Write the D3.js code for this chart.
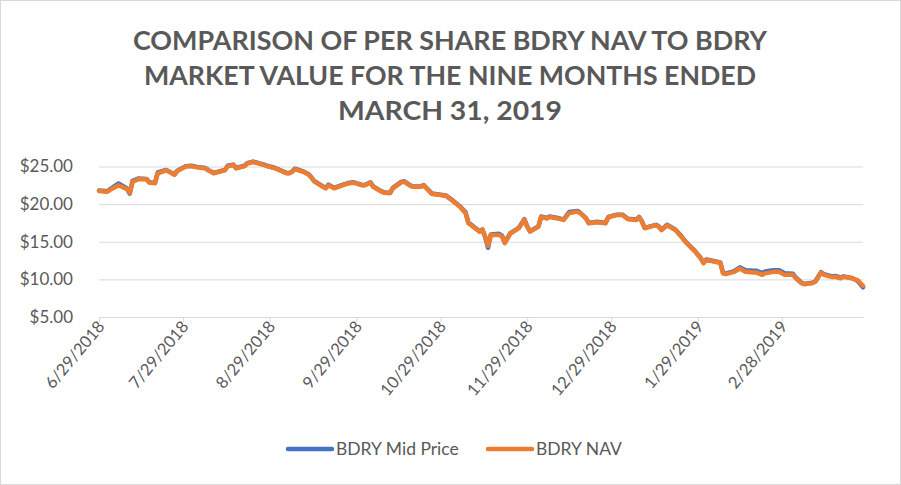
<!DOCTYPE html>
<html>
<head>
<meta charset="utf-8">
<script src="https://cdn.jsdelivr.net/npm/d3@7"></script>
<style>
  body { margin: 0; background: #fff; }
  text { font-family: Lato, "Open Sans", sans-serif; fill: #595959; }
</style>
</head>
<body>
<svg id="chart" width="901" height="485"></svg>
<script>
// Data
const dates = [
    "2018-06-29", "2018-07-02", "2018-07-03", "2018-07-06", "2018-07-09", "2018-07-10", "2018-07-11", "2018-07-13",
    "2018-07-16", "2018-07-17", "2018-07-19", "2018-07-20", "2018-07-23", "2018-07-24", "2018-07-26", "2018-07-27",
    "2018-07-30", "2018-08-01", "2018-08-03", "2018-08-06", "2018-08-07", "2018-08-09", "2018-08-13", "2018-08-14",
    "2018-08-16", "2018-08-17", "2018-08-20", "2018-08-21", "2018-08-23", "2018-08-27", "2018-08-28", "2018-08-31",
    "2018-09-04", "2018-09-05", "2018-09-06", "2018-09-07", "2018-09-10", "2018-09-12", "2018-09-14", "2018-09-17",
    "2018-09-18", "2018-09-19", "2018-09-21", "2018-09-24", "2018-09-26", "2018-09-28", "2018-10-01", "2018-10-02",
    "2018-10-04", "2018-10-05", "2018-10-08", "2018-10-09", "2018-10-11", "2018-10-12", "2018-10-15", "2018-10-16",
    "2018-10-18", "2018-10-19", "2018-10-22", "2018-10-23", "2018-10-24", "2018-10-26", "2018-10-29", "2018-10-31",
    "2018-11-02", "2018-11-05", "2018-11-07", "2018-11-08", "2018-11-12", "2018-11-13", "2018-11-14", "2018-11-15",
    "2018-11-16", "2018-11-19", "2018-11-20", "2018-11-21", "2018-11-23", "2018-11-26", "2018-11-28", "2018-11-29",
    "2018-11-30", "2018-12-03", "2018-12-04", "2018-12-06", "2018-12-07", "2018-12-10", "2018-12-12", "2018-12-14",
    "2018-12-17", "2018-12-18", "2018-12-20", "2018-12-21", "2018-12-24", "2018-12-27", "2018-12-28", "2018-12-31",
    "2019-01-02", "2019-01-04", "2019-01-07", "2019-01-08", "2019-01-09", "2019-01-10", "2019-01-14", "2019-01-15",
    "2019-01-16", "2019-01-18", "2019-01-21", "2019-01-23", "2019-01-24", "2019-01-25", "2019-01-28", "2019-01-30",
    "2019-01-31", "2019-02-01", "2019-02-04", "2019-02-06", "2019-02-07", "2019-02-08", "2019-02-11", "2019-02-13",
    "2019-02-15", "2019-02-18", "2019-02-19", "2019-02-21", "2019-02-22", "2019-02-25", "2019-02-27", "2019-03-01",
    "2019-03-04", "2019-03-05", "2019-03-07", "2019-03-08", "2019-03-11", "2019-03-12", "2019-03-14", "2019-03-15",
    "2019-03-18", "2019-03-19", "2019-03-21", "2019-03-22", "2019-03-25", "2019-03-27", "2019-03-29"
];

const navValues = [
    21.75, 21.65, 21.9, 22.5, 22.0, 21.5, 23.0, 23.3,
    23.3, 22.85, 22.8, 24.1, 24.5, 24.3, 23.9, 24.4,
    25.0, 25.05, 24.9, 24.75, 24.5, 24.1, 24.5, 25.05,
    25.2, 24.75, 25.05, 25.4, 25.6, 25.2, 25.05, 24.75,
    24.1, 24.1, 24.3, 24.65, 24.3, 23.9, 23.0, 22.3,
    22.1, 22.5, 22.1, 22.5, 22.75, 22.85, 22.5, 22.5,
    22.85, 22.3, 21.65, 21.5, 21.45, 22.1, 22.9, 23.0,
    22.5, 22.3, 22.3, 22.5, 22.1, 21.35, 21.2, 21.1,
    20.55, 19.65, 18.8, 17.45, 16.35, 16.65, 15.7, 14.45,
    15.9, 15.9, 15.7, 14.8, 16.1, 16.8, 17.95, 17.0,
    16.35, 17.0, 18.3, 18.1, 18.3, 18.1, 17.9, 18.8,
    19.0, 18.8, 18.1, 17.45, 17.6, 17.45, 18.25, 18.55,
    18.55, 18.0, 17.9, 18.25, 17.65, 16.8, 17.2, 17.0,
    16.55, 17.2, 16.55, 15.7, 15.25, 14.8, 13.7, 12.8,
    12.15, 12.6, 12.35, 12.2, 10.8, 10.7, 11.0, 11.45,
    11.0, 10.9, 10.9, 10.6, 10.8, 11.0, 11.0, 10.6,
    10.6, 10.15, 9.5, 9.35, 9.5, 9.7, 10.9, 10.6,
    10.3, 10.35, 10.15, 10.35, 10.15, 9.9, 9.15
];

const midValues = [
    21.8, 21.7, 22.0, 22.75, 22.1, 21.4, 23.1, 23.4,
    23.35, 22.9, 22.8, 24.2, 24.55, 24.35, 23.95, 24.45,
    25.05, 25.1, 24.95, 24.8, 24.55, 24.15, 24.55, 25.1,
    25.25, 24.8, 25.1, 25.45, 25.65, 25.25, 25.1, 24.8,
    24.15, 24.15, 24.35, 24.7, 24.35, 23.95, 23.05, 22.35,
    22.15, 22.6, 22.15, 22.55, 22.8, 22.9, 22.55, 22.55,
    22.9, 22.35, 21.7, 21.55, 21.5, 22.15, 22.95, 23.05,
    22.55, 22.35, 22.35, 22.55, 22.15, 21.4, 21.25, 21.15,
    20.6, 19.7, 18.9, 17.55, 16.4, 16.6, 15.6, 14.2,
    15.95, 16.05, 15.8, 14.9, 16.15, 16.85, 18.0, 17.05,
    16.4, 17.05, 18.35, 18.15, 18.35, 18.15, 17.95, 18.95,
    19.1, 18.85, 18.15, 17.5, 17.65, 17.5, 18.3, 18.6,
    18.6, 18.05, 17.95, 18.3, 17.7, 16.85, 17.25, 17.05,
    16.6, 17.25, 16.6, 15.8, 15.3, 14.85, 13.75, 12.85,
    12.2, 12.65, 12.4, 12.25, 10.85, 10.8, 11.1, 11.6,
    11.2, 11.15, 11.15, 10.85, 11.05, 11.2, 11.2, 10.8,
    10.75, 10.25, 9.55, 9.4, 9.55, 9.75, 10.95, 10.7,
    10.4, 10.45, 10.25, 10.4, 10.2, 9.8, 8.95
];

const seriesNames = ["BDRY Mid Price", "BDRY NAV"];
const seriesColors = ["#4472c4", "#ed7d31"];
const tickLabels = ["6/29/2018", "7/29/2018", "8/29/2018", "9/29/2018", "10/29/2018",
                    "11/29/2018", "12/29/2018", "1/29/2019", "2/28/2019"];
const yTicks = [5, 10, 15, 20, 25];
const titleLines = [
    "COMPARISON OF PER SHARE BDRY NAV TO BDRY",
    "MARKET VALUE FOR THE NINE MONTHS ENDED",
    "MARCH 31, 2019"
];
const titleWidths = [634, 612, 224];

// Layout
const WIDTH = 901, HEIGHT = 485;
const PLOT = { left: 99, right: 863, top: 166.5, bottom: 317 };
const LABEL_ANGLE = -50;

const svg = d3.select('#chart');
const parseIso = d3.timeParse('%Y-%m-%d');
const parseUs = d3.timeParse('%m/%d/%Y');

// Outer frame
svg.append('rect')
    .attr('x', 0.5).attr('y', 0.5)
    .attr('width', WIDTH - 1).attr('height', HEIGHT - 1)
    .attr('fill', 'white')
    .attr('stroke', '#d9d9d9');

// Title
svg.append('g').selectAll('text')
    .data(titleLines)
    .enter()
    .append('text')
        .attr('x', 450)
        .attr('y', (d, i) => 50 + i * 35)
        .attr('text-anchor', 'middle')
        .attr('font-size', 26)
        .attr('font-weight', 'bold')
        .attr('textLength', (d, i) => titleWidths[i])
        .attr('lengthAdjust', 'spacingAndGlyphs')
        .text((d) => d);

// Scales
const x = d3.scaleTime()
    .domain([parseIso('2018-06-29'), parseIso('2019-03-29')])
    .range([PLOT.left, PLOT.right]);
const y = d3.scaleLinear()
    .domain([5, 25])
    .range([PLOT.bottom, PLOT.top]);

// Gridlines and y labels
const yAxis = d3.axisLeft(y)
    .tickValues(yTicks)
    .tickSize(-(PLOT.right - PLOT.left))
    .tickPadding(26)
    .tickFormat((v) => '$' + d3.format('.2f')(v));
svg.append('g')
    .attr('transform', 'translate(' + PLOT.left + ',0)')
    .call(yAxis)
    .call((g) => g.select('.domain').remove())
    .call((g) => g.selectAll('.tick line').attr('stroke', '#d9d9d9'))
    .call((g) => g.selectAll('.tick text')
        .attr('font-size', 17)
        .style('font-family', 'Lato, sans-serif')
        .attr('fill', '#595959'));

// X axis
const xAxis = d3.axisBottom(x)
    .tickValues(tickLabels.map(parseUs))
    .tickSize(5)
    .tickSizeOuter(0)
    .tickFormat((d, i) => tickLabels[i]);
const gx = svg.append('g')
    .attr('transform', 'translate(0,' + PLOT.bottom + ')')
    .call(xAxis);
gx.select('.domain').attr('stroke', '#d9d9d9');
gx.selectAll('.tick line').attr('stroke', '#d9d9d9');
gx.selectAll('.tick text')
    .attr('font-size', 16.5)
    .style('font-family', 'Lato, sans-serif')
    .attr('fill', '#595959')
    .attr('text-anchor', 'end')
    .attr('dy', null)
    .attr('x', 0)
    .attr('y', 0)
    .attr('transform', 'translate(6,10) rotate(' + LABEL_ANGLE + ')');

// Lines
const series = [midValues, navValues];
const line = d3.line()
    .x((d, i) => x(parseIso(dates[i])))
    .y((d) => y(d))
    .curve(d3.curveLinear);

svg.append('g').selectAll('path')
    .data(series)
    .enter()
    .append('path')
        .attr('d', line)
        .attr('fill', 'none')
        .attr('stroke', (d, i) => seriesColors[i])
        .attr('stroke-width', 4.5)
        .attr('stroke-linejoin', 'round')
        .attr('stroke-linecap', 'round');

// Legend
const legendX = [288, 488];
const legend = svg.append('g').selectAll('g')
    .data(seriesNames)
    .enter()
    .append('g')
        .attr('transform', (d, i) => 'translate(' + legendX[i] + ',449)');
legend.append('line')
    .attr('x1', 0).attr('x2', 44)
    .attr('stroke', (d, i) => seriesColors[i])
    .attr('stroke-width', 4.5)
    .attr('stroke-linecap', 'round');
legend.append('text')
    .attr('x', 48)
    .attr('y', 6)
    .attr('font-size', 17.5)
    .text((d) => d);
</script>
</body>
</html>
